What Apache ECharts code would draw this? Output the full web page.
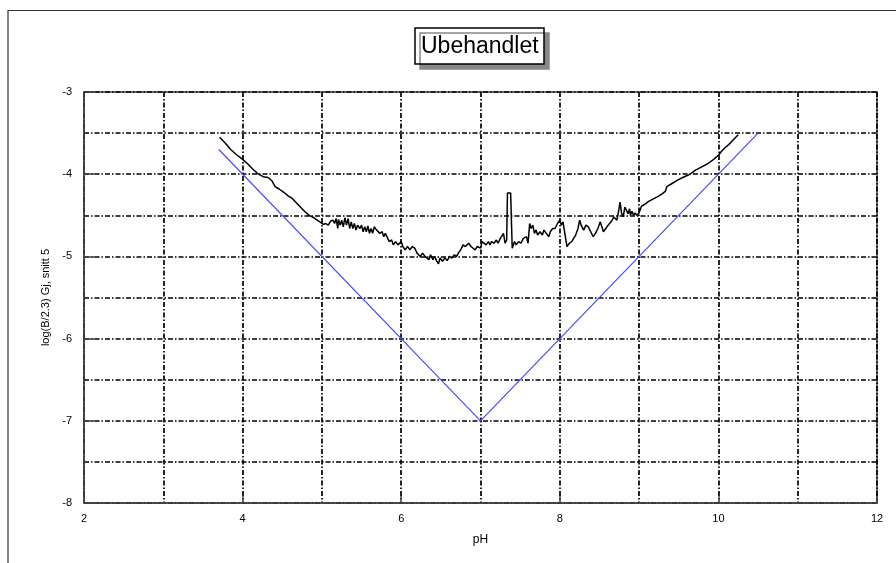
<!DOCTYPE html>
<html><head><meta charset="utf-8">
<script src="https://cdn.jsdelivr.net/npm/echarts@6/dist/echarts.min.js"></script>
<style>html,body{margin:0;padding:0;background:#fff}#c{width:896px;height:563px}</style>
</head><body><div id="c"></div>
<script>
const measured = [
[3.71,-3.55],[3.78,-3.62],[3.85,-3.70],[3.92,-3.76],[4.0,-3.82],[4.06,-3.87],[4.12,-3.93],[4.2,-4.0],[4.26,-4.03],[4.32,-4.04],[4.37,-4.08],[4.41,-4.15],[4.46,-4.18],[4.52,-4.22],[4.57,-4.26],[4.62,-4.29],[4.68,-4.35],[4.74,-4.41],[4.79,-4.46],[4.84,-4.50],[4.90,-4.53],[4.96,-4.57],[5.02,-4.61],
[5.05,-4.60],[5.08,-4.62],[5.11,-4.57],[5.14,-4.56],[5.16,-4.60],[5.18,-4.54],[5.2,-4.66],[5.21,-4.55],[5.23,-4.62],[5.25,-4.56],[5.27,-4.64],[5.29,-4.53],[5.31,-4.62],[5.33,-4.54],[5.35,-4.66],[5.37,-4.58],[5.39,-4.66],[5.41,-4.60],[5.43,-4.68],[5.45,-4.62],[5.48,-4.66],[5.50,-4.62],[5.52,-4.70],[5.54,-4.64],[5.56,-4.70],[5.58,-4.63],[5.60,-4.72],[5.62,-4.66],[5.64,-4.72],[5.66,-4.64],[5.69,-4.68],[5.71,-4.66],[5.73,-4.72],[5.76,-4.70],[5.78,-4.76],[5.80,-4.72],[5.82,-4.76],[5.85,-4.82],[5.88,-4.80],[5.90,-4.86],[5.93,-4.82],[5.96,-4.86],[6.0,-4.82],[6.02,-4.88],[6.05,-4.92],[6.08,-4.88],[6.11,-4.92],[6.14,-4.88],[6.17,-4.90],[6.20,-4.96],[6.22,-4.94],[6.24,-5.0],[6.27,-4.96],[6.30,-5.0],[6.32,-4.98],[6.35,-5.04],[6.37,-4.98],[6.40,-5.04],[6.42,-5.0],[6.45,-5.06],[6.47,-5.09],[6.49,-5.02],[6.52,-5.06],[6.55,-5.02],[6.58,-5.05],[6.61,-5.0],[6.64,-5.02],[6.67,-4.98],[6.70,-5.0],[6.72,-4.96],[6.75,-4.92],[6.78,-4.86],[6.81,-4.88],[6.85,-4.84],[6.88,-4.88],[6.90,-4.86],[6.93,-4.92],[6.96,-4.88],[7.0,-4.90],[7.02,-4.82],[7.04,-4.80],[7.07,-4.86],[7.10,-4.82],[7.12,-4.86],[7.14,-4.82],[7.17,-4.84],[7.20,-4.80],[7.22,-4.84],[7.25,-4.78],[7.27,-4.76],[7.29,-4.72],[7.31,-4.84],[7.33,-4.80],[7.34,-4.23],[7.38,-4.23],[7.40,-4.90],[7.43,-4.82],[7.45,-4.86],[7.48,-4.82],[7.51,-4.84],[7.54,-4.78],[7.56,-4.80],[7.58,-4.76],[7.60,-4.84],[7.62,-4.60],[7.64,-4.66],[7.66,-4.62],[7.68,-4.72],[7.70,-4.68],[7.72,-4.74],[7.75,-4.70],[7.78,-4.74],[7.80,-4.68],[7.83,-4.72],[7.86,-4.76],[7.88,-4.70],[7.91,-4.66],[7.94,-4.66],[7.97,-4.60],[8.0,-4.56],[8.02,-4.62],[8.04,-4.58],[8.06,-4.70],[8.09,-4.88],[8.12,-4.84],[8.15,-4.82],[8.17,-4.80],[8.20,-4.74],[8.23,-4.66],[8.25,-4.56],[8.27,-4.62],[8.30,-4.68],[8.33,-4.62],[8.36,-4.64],[8.39,-4.70],[8.42,-4.76],[8.45,-4.72],[8.48,-4.66],[8.51,-4.58],[8.53,-4.64],[8.55,-4.70],[8.58,-4.66],[8.61,-4.62],[8.63,-4.60],[8.66,-4.56],[8.68,-4.52],[8.70,-4.50],[8.72,-4.56],[8.74,-4.46],[8.76,-4.34],[8.77,-4.32],[8.78,-4.48],[8.80,-4.52],[8.82,-4.40],[8.84,-4.44],[8.86,-4.48],[8.88,-4.42],[8.89,-4.50],[8.91,-4.45],[8.93,-4.50],[8.95,-4.47],[8.97,-4.50],[9.0,-4.47],
[9.03,-4.39],[9.08,-4.36],[9.12,-4.33],[9.18,-4.30],[9.24,-4.27],[9.29,-4.24],[9.33,-4.21],[9.35,-4.15],[9.42,-4.11],[9.49,-4.07],[9.55,-4.04],[9.62,-4.01],[9.67,-3.98],[9.71,-3.95],[9.79,-3.91],[9.87,-3.87],[9.94,-3.82],[10.0,-3.77],[10.04,-3.72],[10.08,-3.68],[10.13,-3.64],[10.17,-3.60],[10.21,-3.56],[10.25,-3.52]
];
const phBlue = [3.7, 7.0, 10.5];
const logBlue = [-3.7, -7.0, -3.5];
const xTicks = [2, 4, 6, 8, 10, 12];
const yTicks = [-3, -4, -5, -6, -7, -8];

const blueData = phBlue.map((x, i) => [x, logBlue[i]]);
const dashDot = { color: '#000', width: 1.7, type: [5, 2, 1.5, 2] };
const chart = echarts.init(document.getElementById('c'), null, { renderer: 'canvas' });
chart.setOption({
  animation: false,
  backgroundColor: '#fff',
  textStyle: { fontFamily: 'Liberation Sans, Arial, sans-serif' },
  title: {
    text: 'Ubehandlet',
    left: 415, top: 28,
    padding: [7, 6, 6, 6],
    backgroundColor: '#fff',
    borderColor: '#000', borderWidth: 1.5,
    shadowColor: '#888', shadowBlur: 0, shadowOffsetX: 5, shadowOffsetY: 5,
    textStyle: { fontSize: 23, fontWeight: 'normal', color: '#000', fontFamily: 'Liberation Sans, Arial' }
  },
  graphic: [{
    type: 'polyline', silent: true,
    shape: { points: [[8, 563], [8, 10.5], [896, 10.5]] },
    style: { stroke: '#333', lineWidth: 1.2, fill: null }
  }],
  grid: { left: 84, right: 19, top: 92, bottom: 60, show: true, borderColor: '#444', borderWidth: 1.5 },
  xAxis: {
    type: 'value', min: 2, max: 12, interval: 2,
    name: 'pH', nameLocation: 'middle', nameGap: 31,
    nameTextStyle: { fontSize: 12, color: '#000' },
    axisLine: { show: true, lineStyle: { color: '#444', width: 1.5 } },
    axisTick: { show: true, inside: true, length: 7, lineStyle: { color: '#444', width: 1.5 } },
    axisLabel: { fontSize: 11, color: '#000', margin: 10, formatter: v => xTicks.includes(v) ? String(v) : '' },
    splitLine: { show: true, lineStyle: dashDot },
    minorTick: { show: false, splitNumber: 2 },
    minorSplitLine: { show: true, lineStyle: dashDot }
  },
  yAxis: {
    type: 'value', min: -8, max: -3, interval: 1,
    name: 'log(B/2.3) Gj, snitt 5', nameLocation: 'middle', nameGap: 33,
    nameTextStyle: { fontSize: 11, color: '#000' },
    axisLine: { show: true, lineStyle: { color: '#444', width: 1.5 } },
    axisTick: { show: true, inside: true, length: 12, lineStyle: { color: '#444', width: 1.5 } },
    axisLabel: { fontSize: 11, color: '#000', margin: 12, formatter: v => yTicks.includes(v) ? String(v) : '' },
    splitLine: { show: true, lineStyle: dashDot },
    minorTick: { show: false, splitNumber: 2 },
    minorSplitLine: { show: true, lineStyle: dashDot }
  },
  series: [
    { type: 'line', data: blueData, showSymbol: false, lineStyle: { color: '#4a4aff', width: 1.2 }, z: 3 },
    { type: 'line', data: measured, showSymbol: false, lineStyle: { color: '#000', width: 1.5 }, z: 4 }
  ]
});
</script></body></html>
